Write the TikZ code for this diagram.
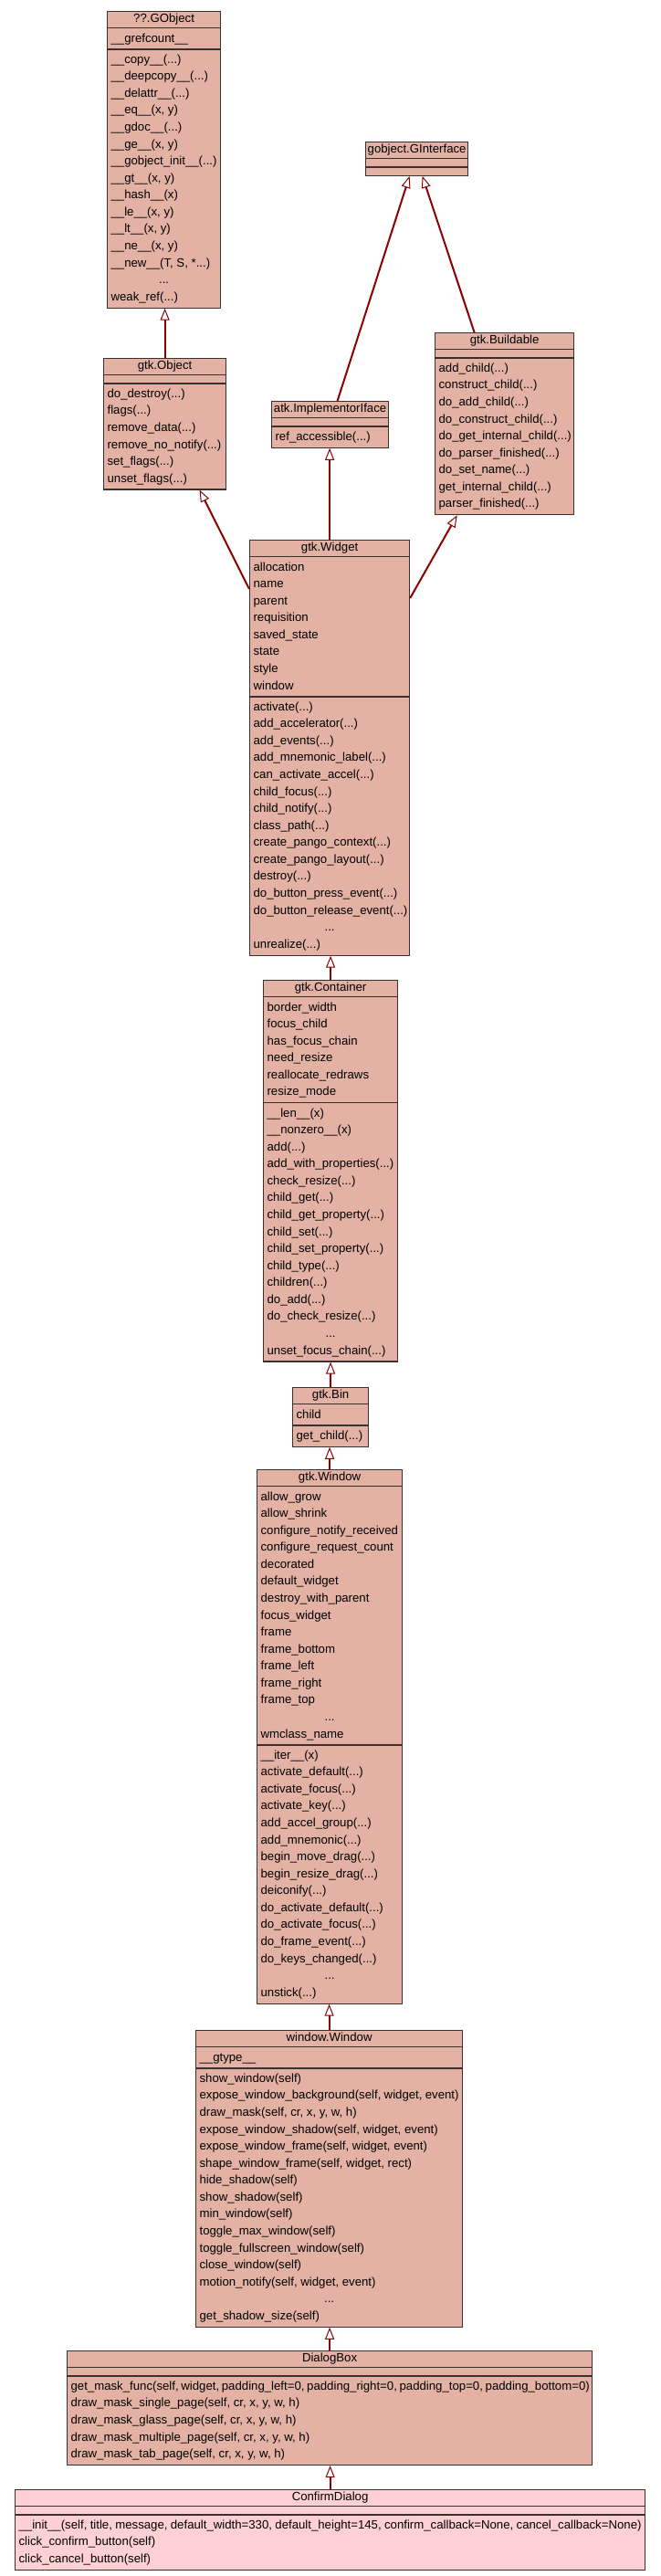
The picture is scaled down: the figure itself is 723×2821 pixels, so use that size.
\documentclass[tikz,border=0pt]{standalone}
\usepackage{fontspec}
\setmainfont{Liberation Sans}
\usetikzlibrary{shapes.multipart,arrows.meta}
\definecolor{clsfill}{HTML}{E3B2A4}
\definecolor{leaffill}{HTML}{FDD0D3}
\definecolor{inhred}{HTML}{8B0000}
\definecolor{clsline}{HTML}{3A3030}

\newlength\boxwd
\newcommand{\cname}[2]{\global\boxwd=#1\relax\hbox to\boxwd{\hss\rule[-4pt]{0pt}{13.6pt}#2\hss}}
\newcommand{\mrow}[1]{\hbox to\boxwd{\strut#1\hfil}}
\newcommand{\mdots}{\hbox to\boxwd{\strut\hfil...\hfil}}
\newcommand{\mlist}[1]{\vbox{#1}}
\newcommand{\mnone}{\rule{0pt}{4.6pt}}

\begin{document}
\begin{tikzpicture}[x=1pt,y=-1pt,
	umlclass/.style={rectangle split, rectangle split parts=3, draw=clsline, line width=1.2pt,
		fill=clsfill, inner xsep=4pt, inner ysep=1.7pt, anchor=north west,
		font=\fontsize{13.2}{18.57}\selectfont},
	inh/.style={draw=inhred, line width=2pt, -{Triangle[open, length=13pt, width=10pt, line width=1pt]}}]
		\fill[white] (0,0) rectangle (723,2821);
		\node[umlclass] (gobject) at (117,12) {\cname{116pt}{??.GObject}%
			\nodepart{two}\mlist{\mrow{\_\_grefcount\_\_}}%
			\nodepart{three}\mlist{
			\mrow{\_\_copy\_\_(...)}
			\mrow{\_\_deepcopy\_\_(...)}
			\mrow{\_\_delattr\_\_(...)}
			\mrow{\_\_eq\_\_(x, y)}
			\mrow{\_\_gdoc\_\_(...)}
			\mrow{\_\_ge\_\_(x, y)}
			\mrow{\_\_gobject\_init\_\_(...)}
			\mrow{\_\_gt\_\_(x, y)}
			\mrow{\_\_hash\_\_(x)}
			\mrow{\_\_le\_\_(x, y)}
			\mrow{\_\_lt\_\_(x, y)}
			\mrow{\_\_ne\_\_(x, y)}
			\mrow{\_\_new\_\_(T, S, *...)}
			\mdots
			\mrow{weak\_ref(...)}}};
		\node[umlclass] (ginterface) at (400,155) {\cname{104pt}{gobject.GInterface}%
			\nodepart{two}\mnone\nodepart{three}\mnone};
		\node[umlclass] (gtkobject) at (113,392) {\cname{126pt}{gtk.Object}%
			\nodepart{two}\mnone%
			\nodepart{three}\mlist{
			\mrow{do\_destroy(...)}
			\mrow{flags(...)}
			\mrow{remove\_data(...)}
			\mrow{remove\_no\_notify(...)}
			\mrow{set\_flags(...)}
			\mrow{unset\_flags(...)}}};
		\node[umlclass] (implementor) at (297,439) {\cname{120pt}{atk.ImplementorIface}%
			\nodepart{two}\mnone%
			\nodepart{three}\mlist{\mrow{ref\_accessible(...)}}};
		\node[umlclass] (buildable) at (476,364) {\cname{144pt}{gtk.Buildable}%
			\nodepart{two}\mnone%
			\nodepart{three}\mlist{
			\mrow{add\_child(...)}
			\mrow{construct\_child(...)}
			\mrow{do\_add\_child(...)}
			\mrow{do\_construct\_child(...)}
			\mrow{do\_get\_internal\_child(...)}
			\mrow{do\_parser\_finished(...)}
			\mrow{do\_set\_name(...)}
			\mrow{get\_internal\_child(...)}
			\mrow{parser\_finished(...)}}};
		\node[umlclass] (widget) at (273,591) {\cname{167pt}{gtk.Widget}%
			\nodepart{two}\mlist{
			\mrow{allocation}
			\mrow{name}
			\mrow{parent}
			\mrow{requisition}
			\mrow{saved\_state}
			\mrow{state}
			\mrow{style}
			\mrow{window}}%
			\nodepart{three}\mlist{
			\mrow{activate(...)}
			\mrow{add\_accelerator(...)}
			\mrow{add\_events(...)}
			\mrow{add\_mnemonic\_label(...)}
			\mrow{can\_activate\_accel(...)}
			\mrow{child\_focus(...)}
			\mrow{child\_notify(...)}
			\mrow{class\_path(...)}
			\mrow{create\_pango\_context(...)}
			\mrow{create\_pango\_layout(...)}
			\mrow{destroy(...)}
			\mrow{do\_button\_press\_event(...)}
			\mrow{do\_button\_release\_event(...)}
			\mdots
			\mrow{unrealize(...)}}};
		\node[umlclass] (container) at (288,1073) {\cname{139pt}{gtk.Container}%
			\nodepart{two}\mlist{
			\mrow{border\_width}
			\mrow{focus\_child}
			\mrow{has\_focus\_chain}
			\mrow{need\_resize}
			\mrow{reallocate\_redraws}
			\mrow{resize\_mode}}%
			\nodepart{three}\mlist{
			\mrow{\_\_len\_\_(x)}
			\mrow{\_\_nonzero\_\_(x)}
			\mrow{add(...)}
			\mrow{add\_with\_properties(...)}
			\mrow{check\_resize(...)}
			\mrow{child\_get(...)}
			\mrow{child\_get\_property(...)}
			\mrow{child\_set(...)}
			\mrow{child\_set\_property(...)}
			\mrow{child\_type(...)}
			\mrow{children(...)}
			\mrow{do\_add(...)}
			\mrow{do\_check\_resize(...)}
			\mdots
			\mrow{unset\_focus\_chain(...)}}};
		\node[umlclass] (bin) at (320,1519) {\cname{75pt}{gtk.Bin}%
			\nodepart{two}\mlist{\mrow{child}}%
			\nodepart{three}\mlist{\mrow{get\_child(...)}}};
		\node[umlclass] (gtkwindow) at (281,1609) {\cname{151pt}{gtk.Window}%
			\nodepart{two}\mlist{
			\mrow{allow\_grow}
			\mrow{allow\_shrink}
			\mrow{configure\_notify\_received}
			\mrow{configure\_request\_count}
			\mrow{decorated}
			\mrow{default\_widget}
			\mrow{destroy\_with\_parent}
			\mrow{focus\_widget}
			\mrow{frame}
			\mrow{frame\_bottom}
			\mrow{frame\_left}
			\mrow{frame\_right}
			\mrow{frame\_top}
			\mdots
			\mrow{wmclass\_name}}%
			\nodepart{three}\mlist{
			\mrow{\_\_iter\_\_(x)}
			\mrow{activate\_default(...)}
			\mrow{activate\_focus(...)}
			\mrow{activate\_key(...)}
			\mrow{add\_accel\_group(...)}
			\mrow{add\_mnemonic(...)}
			\mrow{begin\_move\_drag(...)}
			\mrow{begin\_resize\_drag(...)}
			\mrow{deiconify(...)}
			\mrow{do\_activate\_default(...)}
			\mrow{do\_activate\_focus(...)}
			\mrow{do\_frame\_event(...)}
			\mrow{do\_keys\_changed(...)}
			\mdots
			\mrow{unstick(...)}}};
		\node[umlclass] (wwindow) at (214,2223) {\cname{284pt}{window.Window}%
			\nodepart{two}\mlist{\mrow{\_\_gtype\_\_}}%
			\nodepart{three}\mlist{
			\mrow{show\_window(self)}
			\mrow{expose\_window\_background(self, widget, event)}
			\mrow{draw\_mask(self, cr, x, y, w, h)}
			\mrow{expose\_window\_shadow(self, widget, event)}
			\mrow{expose\_window\_frame(self, widget, event)}
			\mrow{shape\_window\_frame(self, widget, rect)}
			\mrow{hide\_shadow(self)}
			\mrow{show\_shadow(self)}
			\mrow{min\_window(self)}
			\mrow{toggle\_max\_window(self)}
			\mrow{toggle\_fullscreen\_window(self)}
			\mrow{close\_window(self)}
			\mrow{motion\_notify(self, widget, event)}
			\mdots
			\mrow{get\_shadow\_size(self)}}};
		\node[umlclass] (dialogbox) at (73,2574) {\cname{567pt}{DialogBox}%
			\nodepart{two}\mnone%
			\nodepart{three}\mlist{
			\mrow{get\_mask\_func(self, widget, padding\_left=0, padding\_right=0, padding\_top=0, padding\_bottom=0)}
			\mrow{draw\_mask\_single\_page(self, cr, x, y, w, h)}
			\mrow{draw\_mask\_glass\_page(self, cr, x, y, w, h)}
			\mrow{draw\_mask\_multiple\_page(self, cr, x, y, w, h)}
			\mrow{draw\_mask\_tab\_page(self, cr, x, y, w, h)}}};
		\node[umlclass, fill=leaffill] (confirm) at (16,2726) {\cname{682pt}{ConfirmDialog}%
			\nodepart{two}\mnone%
			\nodepart{three}\mlist{
			\mrow{\_\_init\_\_(self, title, message, default\_width=330, default\_height=145, confirm\_callback=None, cancel\_callback=None)}
			\mrow{click\_confirm\_button(self)}
			\mrow{click\_cancel\_button(self)}}};
		\draw[inh] (gtkobject.north) -- (gtkobject.north |- gobject.south);
		\draw[inh] ([xshift=8pt]implementor.north) -- ([xshift=-8pt]ginterface.south);
		\draw[inh] ([xshift=-33pt]buildable.north) -- ([xshift=6pt]ginterface.south);
		\draw[inh] ([yshift=-54pt]widget.north west) -- ([xshift=38pt]gtkobject.south);
		\draw[inh] (widget.north) -- (widget.north |- implementor.south);
		\draw[inh] ([yshift=-64pt]widget.north east) -- ([xshift=-52pt]buildable.south);
		\foreach \a/\b in {container/widget, bin/container, gtkwindow/bin, wwindow/gtkwindow, dialogbox/wwindow, confirm/dialogbox}
			\draw[inh] (\a.north) -- (\a.north |- \b.south);
\end{tikzpicture}
\end{document}
